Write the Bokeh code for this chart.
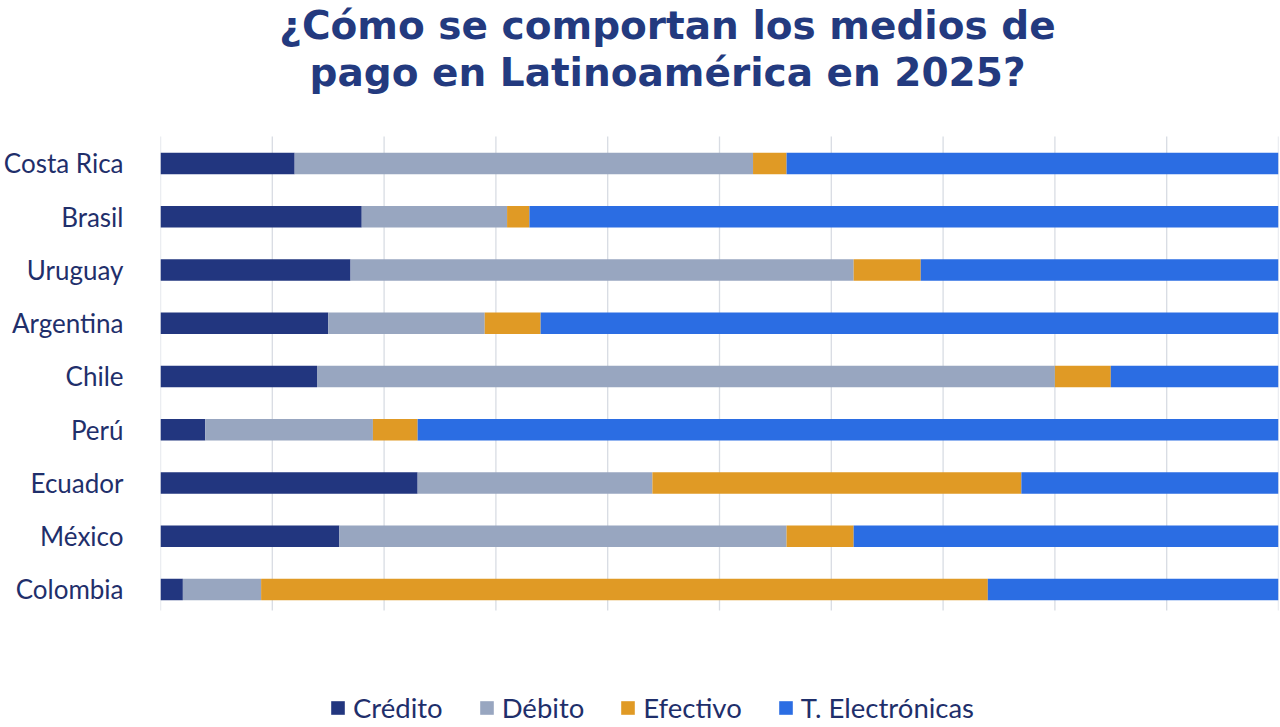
from bokeh.plotting import figure
from bokeh.models import (ColumnDataSource, Range1d, FixedTicker, Legend,
                          LegendItem, Label)
from bokeh.embed import file_html
from bokeh.resources import INLINE

# Payment-method shares (%) per country, listed top to bottom
countries = ["Costa Rica", "Brasil", "Uruguay", "Argentina", "Chile",
             "Perú", "Ecuador", "México", "Colombia"]
credito = [12, 18, 17, 15, 14, 4, 23, 16, 2]
debito = [41, 13, 45, 14, 66, 15, 21, 40, 7]
efectivo = [3, 2, 6, 5, 5, 4, 33, 6, 65]
electronicas = [44, 67, 32, 66, 15, 77, 23, 38, 26]

series = ["Crédito", "Débito", "Efectivo", "T. Electrónicas"]
colors = ["#22367f", "#98a6c0", "#e09a25", "#2b6de3"]
grid_ticks = list(range(0, 101, 10))
title_lines = ["¿Cómo se comportan los medios de",
               "pago en Latinoamérica en 2025?"]

W, H = 1280, 727
LEFT, RIGHT = 160, 2          # frame borders in px
ROW_PX = 53.25                # px per category row
BAR_TOP_PX = 136              # top of the bar area, px from canvas top

n = len(countries)
ypos = [n - 1 - i for i in range(n)]  # first country drawn at the top

# vertical extent of the bar area in category units; the frame is stretched
# over the whole canvas so title and legend can live inside it
bar_lo, bar_hi = -0.394, n - 1 + 0.507
y_hi = bar_hi + BAR_TOP_PX / ROW_PX
y_lo = y_hi - H / ROW_PX
px_per_pct = (W - LEFT - RIGHT) / 100


def y_at(px_from_top):
    return y_hi - px_from_top / ROW_PX


def x_at(px_from_left):
    return (px_from_left - LEFT) / px_per_pct


source = ColumnDataSource(dict(
    y=ypos,
    country=countries,
    **{"Crédito": credito, "Débito": debito,
       "Efectivo": efectivo, "T. Electrónicas": electronicas},
))

p = figure(width=W, height=H, output_backend="svg", toolbar_location=None,
           x_range=Range1d(0, 100), y_range=Range1d(y_lo, y_hi),
           min_border_left=LEFT, min_border_right=RIGHT, min_border_top=0,
           min_border_bottom=0, outline_line_color=None)

# vertical guide lines limited to the bar area
p.segment(x0=grid_ticks, x1=grid_ticks, y0=[bar_lo] * len(grid_ticks),
          y1=[bar_hi] * len(grid_ticks), line_color="#d8dce3", line_width=1.3,
          level="underlay")

renderers = p.hbar_stack(series, y="y", height=0.4, color=colors,
                         source=source, line_width=0)

# Axes: only the category labels on the left are shown
p.xaxis.visible = False
p.xgrid.grid_line_color = None
p.ygrid.grid_line_color = None
p.yaxis.ticker = FixedTicker(ticks=ypos)
p.yaxis.major_label_overrides = {yy: c for yy, c in zip(ypos, countries)}
p.yaxis.axis_line_color = None
p.yaxis.major_tick_line_color = None
p.yaxis.minor_tick_line_color = None
p.yaxis.major_label_standoff = 31
p.yaxis.major_label_text_font = "Lato"
p.yaxis.major_label_text_font_size = "26px"
p.yaxis.major_label_text_color = "#1f2f6b"

# Two-line title, centred over the canvas (positions are line centres)
for line, mid_px in zip(title_lines, [25, 72]):
    p.add_layout(Label(x=x_at(W / 2 + 27), y=y_at(mid_px), text=line,
                       text_align="center", text_baseline="middle",
                       text_font="DejaVu Sans", text_font_size="39px",
                       text_font_style="bold", text_color="#233a7f"))

legend = Legend(items=[LegendItem(label=s, renderers=[r]) for s, r in zip(series, renderers)],
                orientation="horizontal", location=(169, 3),
                label_text_font="Lato", label_text_font_size="27.5px",
                label_text_color="#1f2f6b", glyph_width=17, glyph_height=17,
                label_standoff=7, spacing=35, padding=0, margin=0,
                border_line_color=None, background_fill_alpha=0)
p.add_layout(legend, "center")

open("out.html", "w").write(file_html(p, INLINE))
